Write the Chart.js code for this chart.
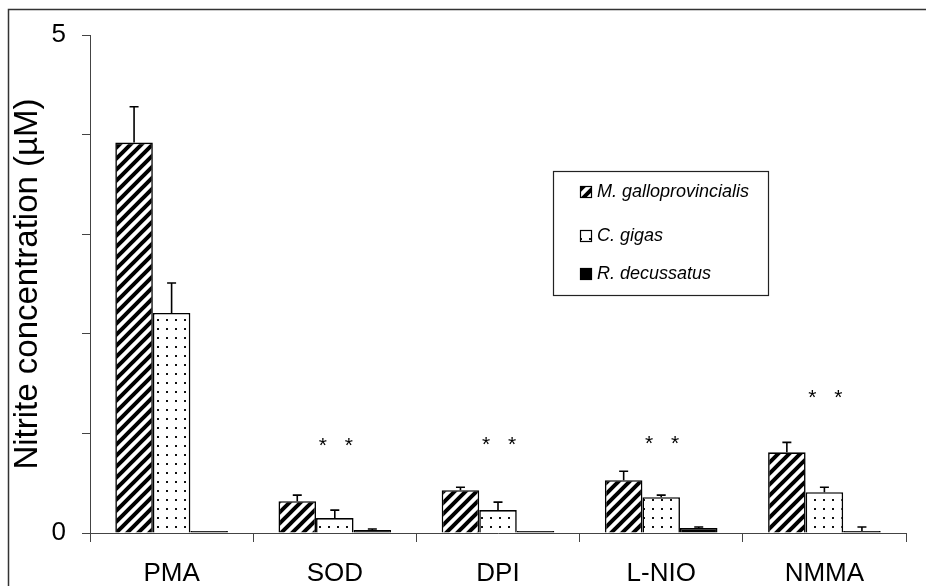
<!DOCTYPE html>
<html>
<head>
<meta charset="utf-8">
<script src="https://cdn.jsdelivr.net/npm/chart.js@4.4.0/dist/chart.umd.min.js"></script>
<style>
  html, body { margin: 0; padding: 0; background: #fff; }
  #wrap { width: 926px; height: 586px; }
</style>
</head>
<body>
<div id="wrap"><canvas id="nitriteChart" width="926" height="586"></canvas></div>
<script>
// ===== データ =====
const categories = ['PMA', 'SOD', 'DPI', 'L-NIO', 'NMMA'];
const species = ['M. galloprovincialis', 'C. gigas', 'R. decussatus'];
const galloValues = [3.92, 0.32, 0.43, 0.53, 0.81];
const galloErrors = [0.36, 0.06, 0.03, 0.09, 0.10];
const gigasValues = [2.21, 0.15, 0.23, 0.36, 0.41];
const gigasErrors = [0.30, 0.08, 0.08, 0.02, 0.05];
const decussatusValues = [0.02, 0.03, 0.02, 0.05, 0.02];
const decussatusErrors = [0, 0.01, 0, 0.01, 0.04];
const starHeights = [null, 0.91, 0.92, 0.93, 1.39];
const yTickLabels = [0, 5];

const FONT = "'Liberation Sans', Arial, sans-serif";

// ===== 塗りパターン =====
function makeHatch() {
    const s = 11;
    const c = document.createElement('canvas');
    c.width = s; c.height = s;
    const g = c.getContext('2d');
    g.fillStyle = '#fff';
    g.fillRect(0, 0, s, s);
    g.strokeStyle = '#000';
    g.lineWidth = 4;
    g.beginPath();
    g.moveTo(-2, 2); g.lineTo(2, -2);
    g.moveTo(-1, s + 1); g.lineTo(s + 1, -1);
    g.moveTo(s - 2, s + 2); g.lineTo(s + 2, s - 2);
    g.stroke();
    return g.createPattern(c, 'repeat');
}

function makeDots() {
    const c = document.createElement('canvas');
    c.width = 9; c.height = 9;
    const g = c.getContext('2d');
    g.fillStyle = '#fff';
    g.fillRect(0, 0, 9, 9);
    g.fillStyle = '#111';
    g.fillRect(4, 4, 2, 2);
    return g.createPattern(c, 'repeat');
}

const hatch = makeHatch();
const dots = makeDots();
const errorSets = [galloErrors, gigasErrors, decussatusErrors];

// ===== エラーバー・星印・凡例・枠 =====
const extrasPlugin = {
    id: 'extras',
    beforeDraw(chart) {
        const ctx = chart.ctx;
        ctx.save();
        ctx.fillStyle = '#fff';
        ctx.fillRect(0, 0, chart.width, chart.height);
        ctx.strokeStyle = '#333';
        ctx.lineWidth = 1.5;
        ctx.beginPath();
        ctx.moveTo(8.5, chart.height);
        ctx.lineTo(8.5, 9.5);
        ctx.lineTo(chart.width, 9.5);
        ctx.stroke();
        ctx.restore();
    },
    afterDatasetsDraw(chart) {
        const ctx = chart.ctx;
        const yScale = chart.scales.y;
        const xScale = chart.scales.x;
        ctx.save();
        ctx.strokeStyle = '#000';
        ctx.lineWidth = 1.6;
        chart.data.datasets.forEach((ds, i) => {
            const meta = chart.getDatasetMeta(i);
            meta.data.forEach((bar, j) => {
                const err = errorSets[i][j];
                if (!err) return;
                const yTop = yScale.getPixelForValue(ds.data[j] + err);
                ctx.beginPath();
                ctx.moveTo(bar.x, bar.y);
                ctx.lineTo(bar.x, yTop);
                ctx.moveTo(bar.x - 4.5, yTop);
                ctx.lineTo(bar.x + 4.5, yTop);
                ctx.stroke();
            });
        });

        ctx.fillStyle = '#000';
        ctx.font = '21px ' + FONT;
        ctx.textAlign = 'center';
        ctx.textBaseline = 'middle';
        starHeights.forEach((h, j) => {
            if (h === null) return;
            const cx = xScale.getPixelForValue(j);
            const y = yScale.getPixelForValue(h) + 4;
            ctx.fillText('*', cx - 12, y);
            ctx.fillText('*', cx + 14, y);
        });
        ctx.restore();
    },
    afterDraw(chart) {
        const ctx = chart.ctx;
        ctx.save();
        ctx.strokeStyle = '#222';
        ctx.lineWidth = 1.2;
        ctx.strokeRect(553.5, 171.5, 215, 124);
        const rows = [192, 236, 274];
        ctx.font = 'italic 18px ' + FONT;
        ctx.textBaseline = 'middle';
        ctx.textAlign = 'left';
        chart.data.datasets.forEach((ds, i) => {
            const y = rows[i];
            ctx.fillStyle = ds.backgroundColor;
            ctx.fillRect(580, y - 6, 12, 12);
            ctx.strokeStyle = '#000';
            ctx.lineWidth = 1.2;
            ctx.strokeRect(580.5, y - 5.5, 11, 11);
            ctx.fillStyle = '#000';
            ctx.fillText(ds.label, 597, y);
        });
        ctx.restore();
    }
};

const ctx = document.getElementById('nitriteChart').getContext('2d');
new Chart(ctx, {
    type: 'bar',
    data: {
        labels: categories,
        datasets: [
            { label: species[0], data: galloValues, backgroundColor: hatch },
            { label: species[1], data: gigasValues, backgroundColor: dots },
            { label: species[2], data: decussatusValues, backgroundColor: '#000' }
        ].map(d => Object.assign(d, {
            borderColor: '#000',
            borderWidth: 1.6,
            categoryPercentage: 0.69,
            barPercentage: 1.0
        }))
    },
    options: {
        responsive: false,
        animation: false,
        devicePixelRatio: 1,
        layout: { padding: { top: 35, right: 20, left: 0, bottom: 0 } },
        plugins: {
            legend: { display: false },
            tooltip: { enabled: false }
        },
        scales: {
            x: {
                grid: { drawOnChartArea: false, tickLength: 9, color: '#444', offset: true },
                border: { color: '#444', width: 1 },
                ticks: { color: '#000', font: { family: FONT, size: 26 }, padding: 16 },
                afterFit(scale) { scale.height = 53; }
            },
            y: {
                min: 0,
                max: 5,
                grid: { drawOnChartArea: false, tickLength: 8, color: '#444' },
                border: { color: '#444', width: 1 },
                ticks: {
                    stepSize: 1,
                    color: '#000',
                    padding: 16,
                    font: { family: FONT, size: 26 },
                    callback: v => yTickLabels.includes(v) ? v : ''
                },
                title: {
                    display: true,
                    text: 'Nitrite concentration (µM)',
                    color: '#000',
                    font: { family: FONT, size: 33 },
                    padding: { top: 8, bottom: 0 }
                },
                afterFit(scale) { scale.width = 90; }
            }
        }
    },
    plugins: [extrasPlugin]
});
</script>
</body>
</html>
